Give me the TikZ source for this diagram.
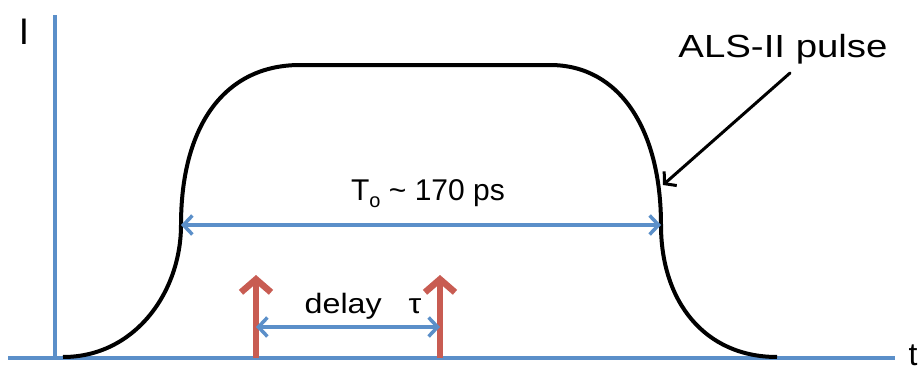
\documentclass[tikz,border=0pt]{standalone}
\usepackage{fontspec}
\setmainfont{Liberation Sans}
\usetikzlibrary{arrows.meta}
\definecolor{axisblue}{RGB}{91,143,201}
\definecolor{pulsered}{RGB}{200,92,82}
\tikzset{
  axis/.style={draw=axisblue,line width=4.5pt},
  span/.style={draw=axisblue,line width=3.5pt,{Straight Barb[length=9pt,width=19pt]}-{Straight Barb[length=9pt,width=19pt]}},
  probe/.style={draw=pulsered,line width=6.5pt,-{Straight Barb[length=13pt,width=30pt]}},
  pointer/.style={draw=black,line width=3pt,-{Straight Barb[length=8pt,width=19pt]}},
  lbl/.style={inner sep=0pt,anchor=base}
}
\begin{document}
\begin{tikzpicture}[x=1pt,y=-1pt,line cap=round,line join=round]
\useasboundingbox (0,0) rectangle (922,372);
% axes
\coordinate (xleft) at (8,358);
\coordinate (xright) at (895,358);
\coordinate (origin) at (55,358);
\coordinate (ytop) at (55,15);
\draw[axis,line cap=butt] (xleft) -- (xright);
\draw[axis,line cap=butt] (origin) -- (ytop);
\node[lbl,font=\fontsize{37}{37}\selectfont] (ilabel) at (24,45) {I};
\node[lbl,font=\fontsize{32}{32}\selectfont] (tlabel) at (913,365) {t};
% pulse
\coordinate (p0) at (63,357);
\coordinate (lmid) at (181,225);
\coordinate (ltop) at (300,65);
\coordinate (rtop) at (550,65);
\coordinate (rmid) at (661,225);
\coordinate (p1) at (777,357);
\draw[line width=4pt,line cap=butt] (p0) .. controls (135,357) and (181,292) .. (lmid)
  .. controls (181,125) and (225,65) .. (ltop) -- (rtop)
  .. controls (620,65) and (661,130) .. (rmid)
  .. controls (661,302) and (705,357) .. (p1);
% width of the pulse
\draw[span] (lmid) -- (rmid);
\node[lbl,font=\fontsize{30}{30}\selectfont] (width) at (428,200) {T\raisebox{-7pt}{\fontsize{20}{20}\selectfont o} \char`\~{} 170 ps};
% label of the pulse
\node[lbl,font=\fontsize{32}{32}\selectfont] (name) at (783,57) {\scalebox{1.2}[1]{ALS-II pulse}};
\coordinate (hit) at (663,185);
\draw[pointer] (790,73) -- (hit);
% probe pulses
\coordinate (first) at (256,358);
\coordinate (second) at (440,358);
\coordinate (firsttip) at (256,275);
\coordinate (secondtip) at (440,275);
\draw[probe,line cap=butt] (first) -- (firsttip);
\draw[probe,line cap=butt] (second) -- (secondtip);
\coordinate (da) at (256,327);
\coordinate (db) at (440,327);
\draw[span] (da) -- (db);
\node[lbl,font=\fontsize{28}{28}\selectfont] (delay) at (363,313) {\scalebox{1.15}[1]{delay~~~τ}};
\end{tikzpicture}
\end{document}
